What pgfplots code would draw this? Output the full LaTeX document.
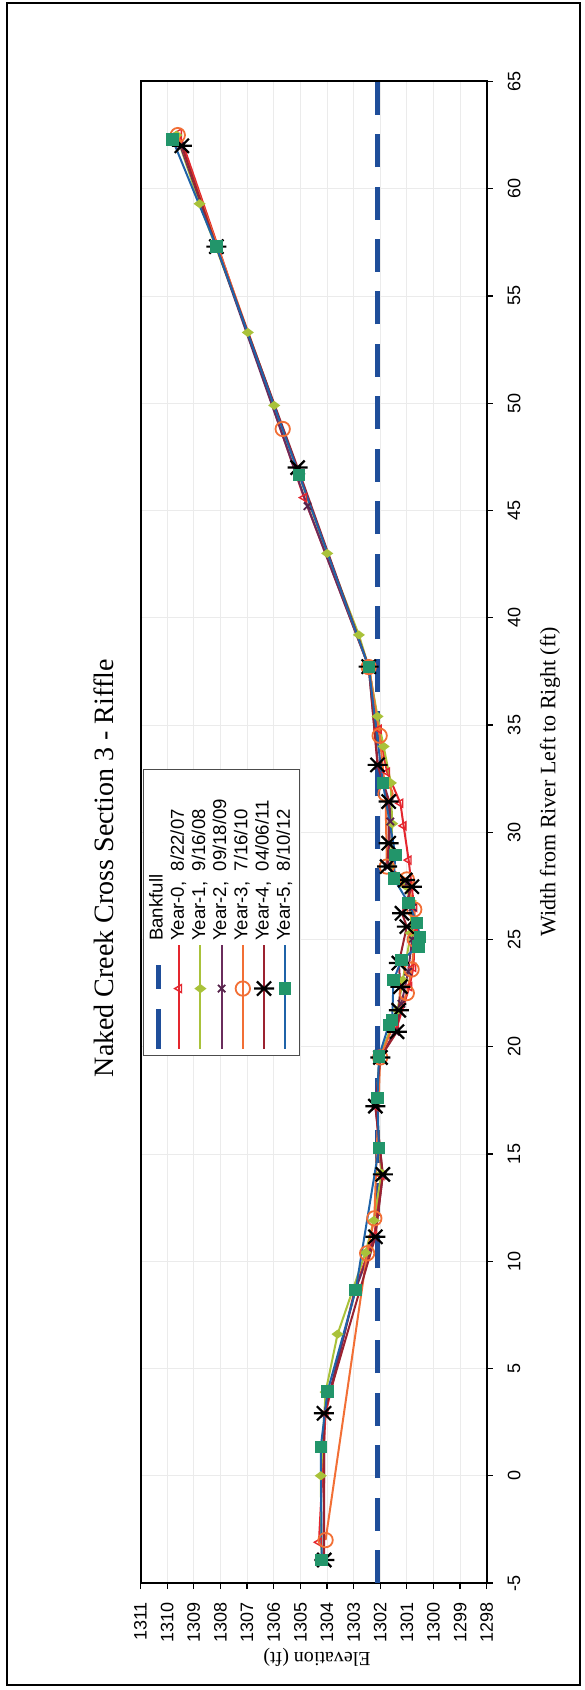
\documentclass[border=0pt]{standalone}
\usepackage{fontspec}
\setmainfont{Liberation Serif}
\setsansfont{Liberation Sans}
\usepackage{pgfplots}
\pgfplotsset{compat=1.18}
\definecolor{bank}{HTML}{1F4E9A}
\definecolor{yzero}{HTML}{E4262E}
\definecolor{yone}{HTML}{A9C23A}
\definecolor{ytwo}{HTML}{6A2C5C}
\definecolor{ythree}{HTML}{F26F35}
\definecolor{yfour}{HTML}{9B2230}
\definecolor{yfive}{HTML}{1F63A8}
\definecolor{sqgreen}{HTML}{22956A}
\pgfdeclareplotmark{xstar}{%
  \pgfpathmoveto{\pgfqpoint{-0.707\pgfplotmarksize}{-0.707\pgfplotmarksize}}%
  \pgfpathlineto{\pgfqpoint{0.707\pgfplotmarksize}{0.707\pgfplotmarksize}}%
  \pgfpathmoveto{\pgfqpoint{-0.707\pgfplotmarksize}{0.707\pgfplotmarksize}}%
  \pgfpathlineto{\pgfqpoint{0.707\pgfplotmarksize}{-0.707\pgfplotmarksize}}%
  \pgfpathmoveto{\pgfqpoint{0pt}{-\pgfplotmarksize}}%
  \pgfpathlineto{\pgfqpoint{0pt}{\pgfplotmarksize}}%
  \pgfusepathqstroke}
\newcommand{\lgd}[1]{\makebox[83pt][l]{#1}}
\begin{document}
\begin{tikzpicture}[rotate=90, transform shape]
\begin{axis}[
  at={(0,0)}, anchor=south west,
  scale only axis, width=750.75pt, height=173.1pt,
  xmin=-5, xmax=65, ymin=1298, ymax=1311,
  xtick={-5,0,...,65}, ytick={1298,1299,...,1311},
  xtick pos=bottom, ytick pos=left,
  tick align=outside, major tick length=3pt,
  xticklabel shift=4pt, yticklabel shift=3pt,
  tick style={black, line width=0.6pt},
  axis line style={line width=1pt},
  grid=major, major grid style={black!8, line width=0.4pt},
  /pgf/number format/assume math mode=true,
  /pgf/number format/set thousands separator={},
  ticklabel style={font=\sffamily\fontsize{9}{10}\selectfont},
  title={Naked Creek Cross Section 3 - Riffle},
  title style={font=\rmfamily\fontsize{14}{16}\selectfont, at={(axis description cs:0.476,1.072)}, anchor=center},
  xlabel={Width from River Left to Right (ft)},
  ylabel={Elevation (ft)},
  xlabel style={font=\rmfamily\fontsize{11}{12}\selectfont, at={(axis description cs:0.5335,-0.1828)}, anchor=center},
  ylabel style={font=\rmfamily\fontsize{10}{12}\selectfont, at={(axis description cs:-0.0493,0.49)}, anchor=center},
  legend style={at={(0.542,0.993)}, anchor=north east, draw=black!70, line width=0.5pt,
    font=\sffamily\fontsize{9.3}{10}\selectfont, inner sep=2pt,
    nodes={inner sep=0.6pt, text height=7pt, text depth=2.4pt}, row sep=0pt},
  legend cell align=left,
  legend image code/.code={\path (-8pt,0pt) -- (0pt,0pt); \draw[mark repeat=2,mark phase=2] plot coordinates {(0pt,0pt) (22pt,0pt) (44pt,0pt)};},
]
\addplot[bank, line width=2.5pt, dash pattern=on 16.5pt off 9.72pt, forget plot] coordinates {(-5,1302.1) (65,1302.1)};
\addlegendimage{bank, line width=2.5pt, dash pattern=on 12pt off 10pt}
\addlegendentry{\lgd{Bankfull}}
\addplot[yzero, line width=1pt, mark=triangle, mark size=2.3pt, mark options={solid, line width=0.7pt}] coordinates {
(-3.1,1304.3) (2.9,1304.05) (8.7,1302.95) (11.2,1302.22) (14.0,1301.95) (17.2,1302.15) (19.5,1302.0) (20.8,1301.4) (22.8,1300.9) (23.7,1300.75) (25.3,1300.7) (26.5,1300.72) (27.5,1300.82) (28.7,1300.93) (30.3,1301.12) (31.35,1301.24) (32.8,1301.74) (34.8,1302.05) (37.7,1302.42) (45.6,1304.86) (62.6,1309.55)};
\addlegendentry{\lgd{Year-0,\ \ 8/22/07}}
\addplot[yone, line width=1pt, mark=diamond*, mark size=2.2pt, mark options={solid, fill=yone}] coordinates {
(-3.9,1304.2) (0.0,1304.23) (3.9,1304.05) (6.6,1303.6) (10.4,1302.55) (11.9,1302.24) (14.1,1301.95) (17.4,1302.15) (19.5,1302.02) (21.7,1301.35) (23.1,1301.15) (25.3,1300.85) (26.8,1300.85) (27.5,1301.05) (28.4,1301.6) (30.4,1301.55) (32.3,1301.6) (34.0,1301.87) (35.4,1302.1) (37.7,1302.43) (39.2,1302.8) (43.0,1303.99) (49.9,1305.98) (53.3,1306.97) (59.3,1308.78) (62.5,1309.65)};
\addlegendentry{\lgd{Year-1,\ \ 9/16/08}}
\addplot[ytwo, line width=1pt, mark=x, mark size=2.6pt, mark options={solid, line width=0.9pt, draw=ytwo!80!black}] coordinates {
(-3.9,1304.12) (2.9,1304.1) (8.7,1302.92) (11.1,1302.2) (14.0,1301.9) (17.2,1302.18) (19.5,1302.0) (20.7,1301.42) (22.0,1301.2) (23.5,1300.95) (25.0,1300.8) (26.5,1300.78) (27.6,1301.0) (28.4,1301.7) (30.5,1301.62) (31.4,1301.65) (33.1,1302.08) (37.7,1302.43) (45.2,1304.73) (57.3,1308.15) (62.0,1309.5)};
\addlegendentry{\lgd{Year-2,\ \ 09/18/09}}
\addplot[ythree, line width=1pt, mark=o, mark size=3.6pt, mark options={solid, line width=0.9pt}] coordinates {
(-3.0,1304.05) (10.37,1302.49) (12.0,1302.22) (19.5,1302.0) (22.5,1301.0) (23.6,1300.82) (25.0,1300.7) (26.4,1300.72) (27.8,1301.0) (28.4,1301.75) (31.8,1301.8) (34.5,1302.02) (37.7,1302.43) (48.8,1305.66) (62.5,1309.6)};
\addlegendentry{\lgd{Year-3,\ \ 7/16/10}}
\addplot[yfour, line width=1pt, mark=xstar, mark size=5pt, mark options={solid, black, line width=1.1pt}] coordinates {
(-3.93,1304.1) (2.91,1304.11) (11.14,1302.18) (14.05,1301.9) (17.23,1302.18) (19.5,1301.99) (20.7,1301.37) (21.7,1301.3) (22.8,1301.24) (23.9,1301.3) (25.6,1301.0) (26.22,1301.18) (27.46,1300.81) (27.77,1301.06) (28.4,1301.74) (29.49,1301.68) (31.43,1301.68) (33.14,1302.1) (37.72,1302.43) (47.0,1305.1) (57.3,1308.15) (62.0,1309.45)};
\addlegendentry{\lgd{Year-4,\ \ 04/06/11}}
\addplot[yfive, line width=1pt, mark=square*, mark size=2.6pt, mark options={solid, draw=sqgreen, fill=sqgreen}] coordinates {
(-3.93,1304.2) (1.35,1304.23) (3.92,1303.98) (8.66,1302.92) (15.27,1302.05) (17.6,1302.1) (19.54,1302.05) (21.0,1301.68) (21.25,1301.55) (23.1,1301.5) (24.05,1301.2) (24.67,1300.56) (25.13,1300.5) (25.76,1300.62) (26.69,1300.93) (27.85,1301.49) (28.94,1301.43) (32.3,1301.9) (37.7,1302.43) (46.65,1305.04) (57.3,1308.15) (62.3,1309.8)};
\addlegendentry{\lgd{Year-5,\ \ 8/10/12}}
\end{axis}
\draw[line width=0.8pt] (-51pt,-46.5pt) rectangle (790pt,239.8pt);
\pgfresetboundingbox
\path (-53.5pt,-48.65pt) rectangle (791.5pt,243.35pt);
\end{tikzpicture}
\end{document}
